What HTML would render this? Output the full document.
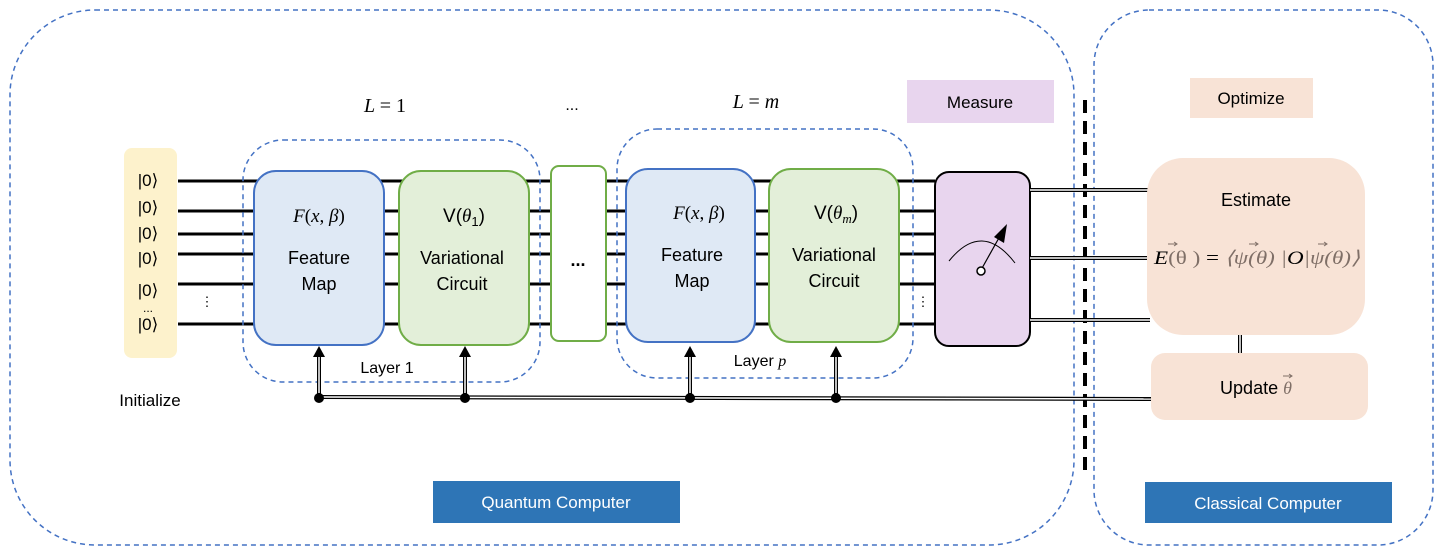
<!DOCTYPE html>
<html><head><meta charset="utf-8"><style>
html,body{margin:0;padding:0;background:#fff;}
svg{display:block;}
text{font-family:"Liberation Sans",sans-serif;fill:#000;}
.m{font-family:"Liberation Serif",serif;font-style:italic;}
</style></head><body>
<svg width="1442" height="554" viewBox="0 0 1442 554" xmlns="http://www.w3.org/2000/svg">
<rect x="10" y="10" width="1064" height="535" rx="85" fill="none" stroke="#4472c4" stroke-width="1.5" stroke-dasharray="5,4"/>
<rect x="1094" y="10" width="339" height="535" rx="55" fill="none" stroke="#4472c4" stroke-width="1.5" stroke-dasharray="5,4"/>
<line x1="1085" y1="100" x2="1085" y2="475" stroke="#000" stroke-width="4" stroke-dasharray="13,8"/>
<rect x="907" y="80" width="147" height="43" fill="#e8d5ee"/>
<text x="980" y="108" font-size="17" text-anchor="middle">Measure</text>
<rect x="1190" y="78" width="123" height="40" fill="#f8e3d6"/>
<text x="1251" y="104" font-size="17" text-anchor="middle">Optimize</text>
<rect x="433" y="481" width="247" height="42" fill="#2e75b6"/>
<text x="556" y="508" font-size="17" text-anchor="middle" style="fill:#fff">Quantum Computer</text>
<rect x="1145" y="482" width="247" height="41" fill="#2e75b6"/>
<text x="1268" y="509" font-size="17" text-anchor="middle" style="fill:#fff">Classical Computer</text>
<text x="385" y="112" font-size="20" text-anchor="middle" class="m">L <tspan font-style="normal">= 1</tspan></text>
<text x="572" y="110" font-size="16" text-anchor="middle">...</text>
<text x="756" y="108" font-size="20" text-anchor="middle" class="m">L <tspan font-style="normal">=</tspan> m</text>
<rect x="124" y="148" width="53" height="210" rx="8" fill="#fdf2cc"/>
<g font-size="17" text-anchor="middle">
<text x="148" y="186">|0⟩</text><text x="148" y="213">|0⟩</text><text x="148" y="239">|0⟩</text>
<text x="148" y="264">|0⟩</text><text x="148" y="296">|0⟩</text><text x="148" y="312" font-size="12">...</text><text x="148" y="330">|0⟩</text>
</g>
<text x="150" y="406" font-size="17" text-anchor="middle">Initialize</text>
<g stroke="#000" stroke-width="3">
<line x1="178" y1="181" x2="935" y2="181"/><line x1="178" y1="211" x2="935" y2="211"/>
<line x1="178" y1="234" x2="935" y2="234"/><line x1="178" y1="254" x2="935" y2="254"/>
<line x1="178" y1="284" x2="935" y2="284"/><line x1="178" y1="324" x2="935" y2="324"/>
</g>
<text x="207" y="306" font-size="13" text-anchor="middle">⋮</text>
<text x="923" y="306" font-size="13" text-anchor="middle">⋮</text>
<rect x="243" y="140" width="297" height="242" rx="40" fill="none" stroke="#4472c4" stroke-width="1.5" stroke-dasharray="5,4"/>
<rect x="617" y="129" width="296" height="249" rx="40" fill="none" stroke="#4472c4" stroke-width="1.5" stroke-dasharray="5,4"/>
<rect x="254" y="171" width="130" height="174" rx="22" fill="#dfe9f5" stroke="#4472c4" stroke-width="2"/>
<rect x="399" y="171" width="130" height="174" rx="22" fill="#e3efd9" stroke="#70ad47" stroke-width="2"/>
<rect x="551" y="166" width="55" height="175" rx="8" fill="#fff" stroke="#70ad47" stroke-width="2"/>
<rect x="626" y="169" width="129" height="173" rx="22" fill="#dfe9f5" stroke="#4472c4" stroke-width="2"/>
<rect x="769" y="169" width="130" height="173" rx="22" fill="#e3efd9" stroke="#70ad47" stroke-width="2"/>
<rect x="935" y="172" width="95" height="174" rx="14" fill="#e8d5ee" stroke="#000" stroke-width="2"/>
<text x="319" y="222" font-size="19" text-anchor="middle" class="m">F<tspan font-style="normal">(</tspan>x<tspan font-style="normal">,</tspan> β<tspan font-style="normal">)</tspan></text>
<text x="319" y="264" font-size="18" text-anchor="middle">Feature</text>
<text x="319" y="290" font-size="18" text-anchor="middle">Map</text>
<text x="464" y="222" font-size="19" text-anchor="middle">V(<tspan class="m">θ</tspan><tspan font-size="13" dy="4">1</tspan><tspan dy="-4">)</tspan></text>
<text x="462" y="264" font-size="18" text-anchor="middle">Variational</text>
<text x="462" y="290" font-size="18" text-anchor="middle">Circuit</text>
<text x="578" y="266" font-size="18" text-anchor="middle" font-weight="bold">...</text>
<text x="699" y="219" font-size="19" text-anchor="middle" class="m">F<tspan font-style="normal">(</tspan>x<tspan font-style="normal">,</tspan> β<tspan font-style="normal">)</tspan></text>
<text x="692" y="261" font-size="18" text-anchor="middle">Feature</text>
<text x="692" y="287" font-size="18" text-anchor="middle">Map</text>
<text x="836" y="219" font-size="19" text-anchor="middle">V(<tspan class="m">θ</tspan><tspan class="m" font-size="13" dy="4">m</tspan><tspan dy="-4">)</tspan></text>
<text x="834" y="261" font-size="18" text-anchor="middle">Variational</text>
<text x="834" y="287" font-size="18" text-anchor="middle">Circuit</text>
<text x="387" y="373" font-size="16" text-anchor="middle">Layer 1</text>
<text x="760" y="366" font-size="16" text-anchor="middle">Layer <tspan class="m">p</tspan></text>
<path d="M949,261 Q982,220 1015,263" fill="none" stroke="#000" stroke-width="1"/>
<line x1="981" y1="270" x2="1000" y2="236" stroke="#000" stroke-width="1.2"/>
<path d="M1007,224 L1004,243 L994,237 Z" fill="#000"/>
<circle cx="981" cy="271" r="4" fill="#fff" stroke="#000" stroke-width="1.5"/>
<line x1="319" y1="397" x2="1151" y2="399" stroke="#000" stroke-width="4"/>
<line x1="319" y1="397" x2="1151" y2="399" stroke="#fff" stroke-width="1.5"/>
<g stroke="#000" stroke-width="4"><line x1="319" y1="397" x2="319" y2="355"/><line x1="465" y1="397" x2="465" y2="355"/><line x1="690" y1="397" x2="690" y2="355"/><line x1="836" y1="397" x2="836" y2="355"/></g>
<g stroke="#fff" stroke-width="1.5"><line x1="319" y1="393" x2="319" y2="355"/><line x1="465" y1="393" x2="465" y2="355"/><line x1="690" y1="393" x2="690" y2="355"/><line x1="836" y1="393" x2="836" y2="355"/></g>
<g fill="#000"><path d="M313,357 L319,346 L325,357Z"/><path d="M459,357 L465,346 L471,357Z"/><path d="M684,357 L690,346 L696,357Z"/><path d="M830,357 L836,346 L842,357Z"/>
<circle cx="319" cy="398" r="5"/><circle cx="465" cy="398" r="5"/><circle cx="690" cy="398" r="5"/><circle cx="836" cy="398" r="5"/></g>
<g stroke="#000" stroke-width="4"><line x1="1030" y1="190" x2="1150" y2="190"/><line x1="1030" y1="258" x2="1150" y2="258"/><line x1="1030" y1="320" x2="1150" y2="320"/><line x1="1240" y1="333" x2="1240" y2="356"/></g>
<g stroke="#fff" stroke-width="1.5"><line x1="1030" y1="190" x2="1150" y2="190"/><line x1="1030" y1="258" x2="1150" y2="258"/><line x1="1030" y1="320" x2="1150" y2="320"/><line x1="1240" y1="333" x2="1240" y2="356"/></g>
<rect x="1147" y="158" width="218" height="177" rx="36" fill="#f8e3d6"/>
<text x="1256" y="206" font-size="18" text-anchor="middle">Estimate</text>
<text x="1154" y="264" font-size="19" class="m" textLength="206" lengthAdjust="spacingAndGlyphs">E<tspan font-style="normal" fill="#7f6f67">(θ )</tspan><tspan font-style="normal"> = </tspan><tspan fill="#7f6f67">⟨ψ(θ) |</tspan>O<tspan fill="#7f6f67">|ψ(θ)⟩</tspan></text>
<g stroke="#7f6f67" stroke-width="1" fill="none">
<path d="M1168,244 h9 m-3,-2 l3,2 l-3,2"/>
<path d="M1249,244 h9 m-3,-2 l3,2 l-3,2"/>
<path d="M1318,244 h9 m-3,-2 l3,2 l-3,2"/>
</g>
<rect x="1151" y="353" width="217" height="67" rx="14" fill="#f8e3d6"/>
<text x="1256" y="394" font-size="18" text-anchor="middle">Update <tspan class="m" fill="#7f6f67">θ</tspan></text>
<g stroke="#7f6f67" stroke-width="1" fill="none"><path d="M1283,376 h9 m-3,-2 l3,2 l-3,2"/></g>
</svg>
</body></html>
